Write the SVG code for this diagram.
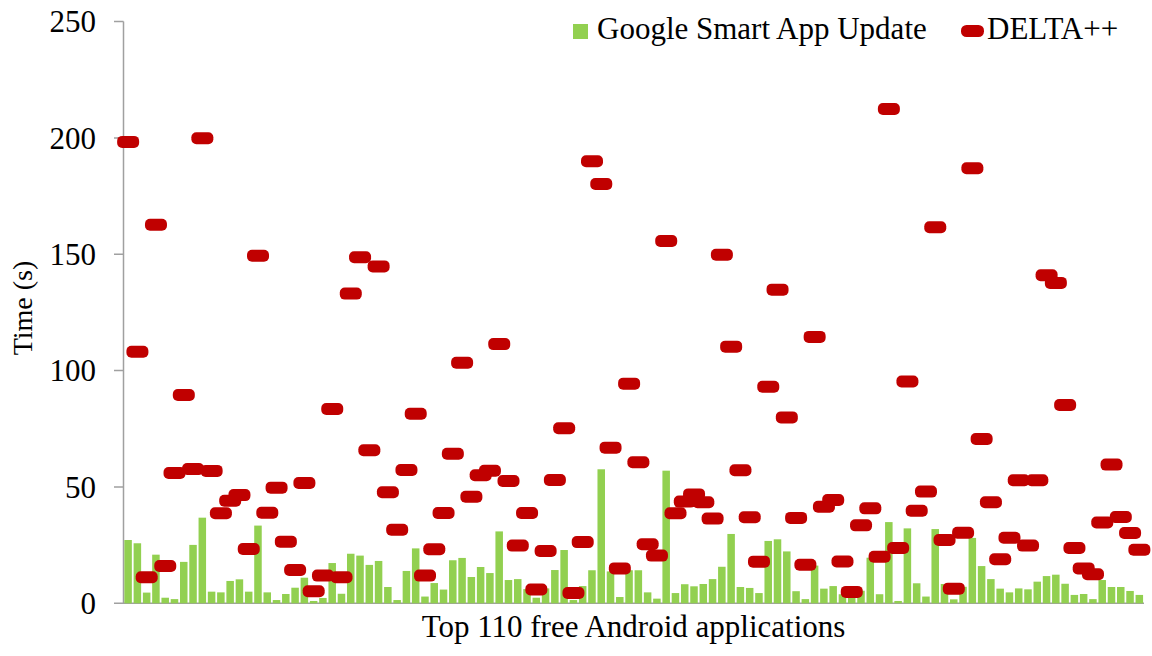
<svg xmlns="http://www.w3.org/2000/svg" xmlns:xlink="http://www.w3.org/1999/xlink" width="1152" height="656" viewBox="0 0 1152 656">
<style>
text{font-family:"Liberation Serif","Times New Roman",serif;fill:#000}
.t{font-size:31px}
.bar{fill:#92D050}
.mk{fill:#C00000}
.ax{stroke:#A0A0A0;stroke-width:1.5;fill:none}
</style>
<defs>
<rect id="m" x="-1.186" y="-2.579" width="2.371" height="5.157" rx="0.539" ry="2.149"/>
</defs>
<rect width="1152" height="656" fill="#fff"/>
<g id="axes">
<path class="ax" d="M123.5 21.6V603.3M114 603.3H1144M114 487H123.5M114 370.6H123.5M114 254.3H123.5M114 137.9H123.5M114 21.6H123.5"/>
<g class="t" text-anchor="end">
<text x="96" y="614">0</text>
<text x="96" y="497.5">50</text>
<text x="96" y="381">100</text>
<text x="96" y="265">150</text>
<text x="96" y="148.5">200</text>
<text x="96" y="32">250</text>
</g>
<text class="t" x="633.5" y="637" text-anchor="middle">Top 110 free Android applications</text>
<text x="0" y="0" font-size="28" text-anchor="middle" transform="translate(32,308) rotate(-90)">Time (s)</text>
</g>
<g id="bars" transform="translate(123.5,603.3) scale(9.2773,-2.3268)">
<rect class="bar" x="0.09" width="0.81" height="27.2"/>
<rect class="bar" x="1.09" width="0.81" height="25.8"/>
<rect class="bar" x="2.09" width="0.81" height="4.6"/>
<rect class="bar" x="3.09" width="0.81" height="20.9"/>
<rect class="bar" x="4.09" width="0.81" height="2.4"/>
<rect class="bar" x="5.09" width="0.81" height="1.8"/>
<rect class="bar" x="6.09" width="0.81" height="17.8"/>
<rect class="bar" x="7.09" width="0.81" height="25.1"/>
<rect class="bar" x="8.09" width="0.81" height="36.8"/>
<rect class="bar" x="9.09" width="0.81" height="5.0"/>
<rect class="bar" x="10.09" width="0.81" height="4.7"/>
<rect class="bar" x="11.09" width="0.81" height="9.6"/>
<rect class="bar" x="12.09" width="0.81" height="10.3"/>
<rect class="bar" x="13.09" width="0.81" height="5.0"/>
<rect class="bar" x="14.09" width="0.81" height="33.4"/>
<rect class="bar" x="15.09" width="0.81" height="4.7"/>
<rect class="bar" x="16.09" width="0.81" height="1.4"/>
<rect class="bar" x="17.09" width="0.81" height="4.0"/>
<rect class="bar" x="18.09" width="0.81" height="6.7"/>
<rect class="bar" x="19.09" width="0.81" height="11.0"/>
<rect class="bar" x="20.09" width="0.81" height="1.0"/>
<rect class="bar" x="21.09" width="0.81" height="2.3"/>
<rect class="bar" x="22.09" width="0.81" height="17.3"/>
<rect class="bar" x="23.09" width="0.81" height="4.1"/>
<rect class="bar" x="24.09" width="0.81" height="21.3"/>
<rect class="bar" x="25.09" width="0.81" height="20.5"/>
<rect class="bar" x="26.09" width="0.81" height="16.5"/>
<rect class="bar" x="27.09" width="0.81" height="18.2"/>
<rect class="bar" x="28.09" width="0.81" height="7.0"/>
<rect class="bar" x="29.09" width="0.81" height="1.4"/>
<rect class="bar" x="30.09" width="0.81" height="13.9"/>
<rect class="bar" x="31.09" width="0.81" height="23.6"/>
<rect class="bar" x="32.09" width="0.81" height="2.9"/>
<rect class="bar" x="33.09" width="0.81" height="8.7"/>
<rect class="bar" x="34.09" width="0.81" height="5.9"/>
<rect class="bar" x="35.09" width="0.81" height="18.5"/>
<rect class="bar" x="36.09" width="0.81" height="19.5"/>
<rect class="bar" x="37.09" width="0.81" height="11.3"/>
<rect class="bar" x="38.09" width="0.81" height="15.6"/>
<rect class="bar" x="39.09" width="0.81" height="13.0"/>
<rect class="bar" x="40.09" width="0.81" height="30.9"/>
<rect class="bar" x="41.09" width="0.81" height="10.0"/>
<rect class="bar" x="42.09" width="0.81" height="10.4"/>
<rect class="bar" x="43.09" width="0.81" height="6.1"/>
<rect class="bar" x="44.09" width="0.81" height="2.4"/>
<rect class="bar" x="45.09" width="0.81" height="6.4"/>
<rect class="bar" x="46.09" width="0.81" height="14.3"/>
<rect class="bar" x="47.09" width="0.81" height="22.9"/>
<rect class="bar" x="48.09" width="0.81" height="1.4"/>
<rect class="bar" x="49.09" width="0.81" height="7.4"/>
<rect class="bar" x="50.09" width="0.81" height="14.2"/>
<rect class="bar" x="51.09" width="0.81" height="57.6"/>
<rect class="bar" x="52.09" width="0.81" height="13.7"/>
<rect class="bar" x="53.09" width="0.81" height="2.7"/>
<rect class="bar" x="54.09" width="0.81" height="14.2"/>
<rect class="bar" x="55.09" width="0.81" height="14.2"/>
<rect class="bar" x="56.09" width="0.81" height="4.7"/>
<rect class="bar" x="57.09" width="0.81" height="2.0"/>
<rect class="bar" x="58.09" width="0.81" height="57.0"/>
<rect class="bar" x="59.09" width="0.81" height="4.4"/>
<rect class="bar" x="60.09" width="0.81" height="8.2"/>
<rect class="bar" x="61.09" width="0.81" height="7.3"/>
<rect class="bar" x="62.09" width="0.81" height="8.3"/>
<rect class="bar" x="63.09" width="0.81" height="10.4"/>
<rect class="bar" x="64.09" width="0.81" height="15.7"/>
<rect class="bar" x="65.09" width="0.81" height="29.8"/>
<rect class="bar" x="66.09" width="0.81" height="7.0"/>
<rect class="bar" x="67.09" width="0.81" height="6.6"/>
<rect class="bar" x="68.09" width="0.81" height="4.4"/>
<rect class="bar" x="69.09" width="0.81" height="26.8"/>
<rect class="bar" x="70.09" width="0.81" height="27.5"/>
<rect class="bar" x="71.09" width="0.81" height="22.3"/>
<rect class="bar" x="72.09" width="0.81" height="5.2"/>
<rect class="bar" x="73.09" width="0.81" height="1.8"/>
<rect class="bar" x="74.09" width="0.81" height="16.2"/>
<rect class="bar" x="75.09" width="0.81" height="6.3"/>
<rect class="bar" x="76.09" width="0.81" height="7.4"/>
<rect class="bar" x="77.09" width="0.81" height="3.9"/>
<rect class="bar" x="78.09" width="0.81" height="2.9"/>
<rect class="bar" x="79.09" width="0.81" height="5.4"/>
<rect class="bar" x="80.09" width="0.81" height="19.6"/>
<rect class="bar" x="81.09" width="0.81" height="3.9"/>
<rect class="bar" x="82.09" width="0.81" height="34.9"/>
<rect class="bar" x="83.09" width="0.81" height="1.0"/>
<rect class="bar" x="84.09" width="0.81" height="32.2"/>
<rect class="bar" x="85.09" width="0.81" height="8.6"/>
<rect class="bar" x="86.09" width="0.81" height="2.9"/>
<rect class="bar" x="87.09" width="0.81" height="31.9"/>
<rect class="bar" x="88.09" width="0.81" height="8.3"/>
<rect class="bar" x="89.09" width="0.81" height="1.7"/>
<rect class="bar" x="90.09" width="0.81" height="7.1"/>
<rect class="bar" x="91.09" width="0.81" height="28.1"/>
<rect class="bar" x="92.09" width="0.81" height="16.0"/>
<rect class="bar" x="93.09" width="0.81" height="10.4"/>
<rect class="bar" x="94.09" width="0.81" height="6.3"/>
<rect class="bar" x="95.09" width="0.81" height="4.7"/>
<rect class="bar" x="96.09" width="0.81" height="6.4"/>
<rect class="bar" x="97.09" width="0.81" height="6.0"/>
<rect class="bar" x="98.09" width="0.81" height="9.3"/>
<rect class="bar" x="99.09" width="0.81" height="11.7"/>
<rect class="bar" x="100.09" width="0.81" height="12.3"/>
<rect class="bar" x="101.09" width="0.81" height="8.4"/>
<rect class="bar" x="102.09" width="0.81" height="3.6"/>
<rect class="bar" x="103.09" width="0.81" height="4.0"/>
<rect class="bar" x="104.09" width="0.81" height="1.8"/>
<rect class="bar" x="105.09" width="0.81" height="10.0"/>
<rect class="bar" x="106.09" width="0.81" height="7.0"/>
<rect class="bar" x="107.09" width="0.81" height="7.0"/>
<rect class="bar" x="108.09" width="0.81" height="5.3"/>
<rect class="bar" x="109.09" width="0.81" height="3.6"/>
</g>
<g id="markers" class="mk" transform="translate(128.14,603.3) scale(9.2773,-2.3268)">
<use xlink:href="#m" x="0" y="198.3"/>
<use xlink:href="#m" x="1" y="108.1"/>
<use xlink:href="#m" x="2" y="11.2"/>
<use xlink:href="#m" x="3" y="162.7"/>
<use xlink:href="#m" x="4" y="16.0"/>
<use xlink:href="#m" x="5" y="56.0"/>
<use xlink:href="#m" x="6" y="89.5"/>
<use xlink:href="#m" x="7" y="57.7"/>
<use xlink:href="#m" x="8" y="199.9"/>
<use xlink:href="#m" x="9" y="56.9"/>
<use xlink:href="#m" x="10" y="38.7"/>
<use xlink:href="#m" x="11" y="44.1"/>
<use xlink:href="#m" x="12" y="46.5"/>
<use xlink:href="#m" x="13" y="23.3"/>
<use xlink:href="#m" x="14" y="149.4"/>
<use xlink:href="#m" x="15" y="38.9"/>
<use xlink:href="#m" x="16" y="49.7"/>
<use xlink:href="#m" x="17" y="26.5"/>
<use xlink:href="#m" x="18" y="14.3"/>
<use xlink:href="#m" x="19" y="51.7"/>
<use xlink:href="#m" x="20" y="5.2"/>
<use xlink:href="#m" x="21" y="11.9"/>
<use xlink:href="#m" x="22" y="83.5"/>
<use xlink:href="#m" x="23" y="11.2"/>
<use xlink:href="#m" x="24" y="133.1"/>
<use xlink:href="#m" x="25" y="148.7"/>
<use xlink:href="#m" x="26" y="65.8"/>
<use xlink:href="#m" x="27" y="144.8"/>
<use xlink:href="#m" x="28" y="47.7"/>
<use xlink:href="#m" x="29" y="31.6"/>
<use xlink:href="#m" x="30" y="57.3"/>
<use xlink:href="#m" x="31" y="81.5"/>
<use xlink:href="#m" x="32" y="11.9"/>
<use xlink:href="#m" x="33" y="23.2"/>
<use xlink:href="#m" x="34" y="38.8"/>
<use xlink:href="#m" x="35" y="64.3"/>
<use xlink:href="#m" x="36" y="103.4"/>
<use xlink:href="#m" x="37" y="45.8"/>
<use xlink:href="#m" x="38" y="55.0"/>
<use xlink:href="#m" x="39" y="57.0"/>
<use xlink:href="#m" x="40" y="111.4"/>
<use xlink:href="#m" x="41" y="52.6"/>
<use xlink:href="#m" x="42" y="24.8"/>
<use xlink:href="#m" x="43" y="38.8"/>
<use xlink:href="#m" x="44" y="5.9"/>
<use xlink:href="#m" x="45" y="22.5"/>
<use xlink:href="#m" x="46" y="53.0"/>
<use xlink:href="#m" x="47" y="75.2"/>
<use xlink:href="#m" x="48" y="4.4"/>
<use xlink:href="#m" x="49" y="26.3"/>
<use xlink:href="#m" x="50" y="190.0"/>
<use xlink:href="#m" x="51" y="180.2"/>
<use xlink:href="#m" x="52" y="66.9"/>
<use xlink:href="#m" x="53" y="15.0"/>
<use xlink:href="#m" x="54" y="94.4"/>
<use xlink:href="#m" x="55" y="60.6"/>
<use xlink:href="#m" x="56" y="25.4"/>
<use xlink:href="#m" x="57" y="20.5"/>
<use xlink:href="#m" x="58" y="155.7"/>
<use xlink:href="#m" x="59" y="38.7"/>
<use xlink:href="#m" x="60" y="43.7"/>
<use xlink:href="#m" x="61" y="46.8"/>
<use xlink:href="#m" x="62" y="43.4"/>
<use xlink:href="#m" x="63" y="36.4"/>
<use xlink:href="#m" x="64" y="149.8"/>
<use xlink:href="#m" x="65" y="110.3"/>
<use xlink:href="#m" x="66" y="57.2"/>
<use xlink:href="#m" x="67" y="37.0"/>
<use xlink:href="#m" x="68" y="17.9"/>
<use xlink:href="#m" x="69" y="93.1"/>
<use xlink:href="#m" x="70" y="134.8"/>
<use xlink:href="#m" x="71" y="79.9"/>
<use xlink:href="#m" x="72" y="36.7"/>
<use xlink:href="#m" x="73" y="16.6"/>
<use xlink:href="#m" x="74" y="114.5"/>
<use xlink:href="#m" x="75" y="41.5"/>
<use xlink:href="#m" x="76" y="44.4"/>
<use xlink:href="#m" x="77" y="18.0"/>
<use xlink:href="#m" x="78" y="4.9"/>
<use xlink:href="#m" x="79" y="33.5"/>
<use xlink:href="#m" x="80" y="40.8"/>
<use xlink:href="#m" x="81" y="20.0"/>
<use xlink:href="#m" x="82" y="212.4"/>
<use xlink:href="#m" x="83" y="23.8"/>
<use xlink:href="#m" x="84" y="95.3"/>
<use xlink:href="#m" x="85" y="39.8"/>
<use xlink:href="#m" x="86" y="48.0"/>
<use xlink:href="#m" x="87" y="161.6"/>
<use xlink:href="#m" x="88" y="27.2"/>
<use xlink:href="#m" x="89" y="6.3"/>
<use xlink:href="#m" x="90" y="30.3"/>
<use xlink:href="#m" x="91" y="187.0"/>
<use xlink:href="#m" x="92" y="70.6"/>
<use xlink:href="#m" x="93" y="43.4"/>
<use xlink:href="#m" x="94" y="18.9"/>
<use xlink:href="#m" x="95" y="28.2"/>
<use xlink:href="#m" x="96" y="52.9"/>
<use xlink:href="#m" x="97" y="24.8"/>
<use xlink:href="#m" x="98" y="52.9"/>
<use xlink:href="#m" x="99" y="141.0"/>
<use xlink:href="#m" x="100" y="137.7"/>
<use xlink:href="#m" x="101" y="85.2"/>
<use xlink:href="#m" x="102" y="23.8"/>
<use xlink:href="#m" x="103" y="15.0"/>
<use xlink:href="#m" x="104" y="12.5"/>
<use xlink:href="#m" x="105" y="34.7"/>
<use xlink:href="#m" x="106" y="59.6"/>
<use xlink:href="#m" x="107" y="37.1"/>
<use xlink:href="#m" x="108" y="30.2"/>
<use xlink:href="#m" x="109" y="23.0"/>
</g>
<g id="legend">
<rect x="573" y="24" width="15" height="15" fill="#92D050"/>
<text class="t" x="597" y="39">Google Smart App Update</text>
<rect x="961" y="25" width="23" height="12" rx="5.5" fill="#C00000"/>
<text class="t" x="987" y="39">DELTA++</text>
</g>
</svg>
